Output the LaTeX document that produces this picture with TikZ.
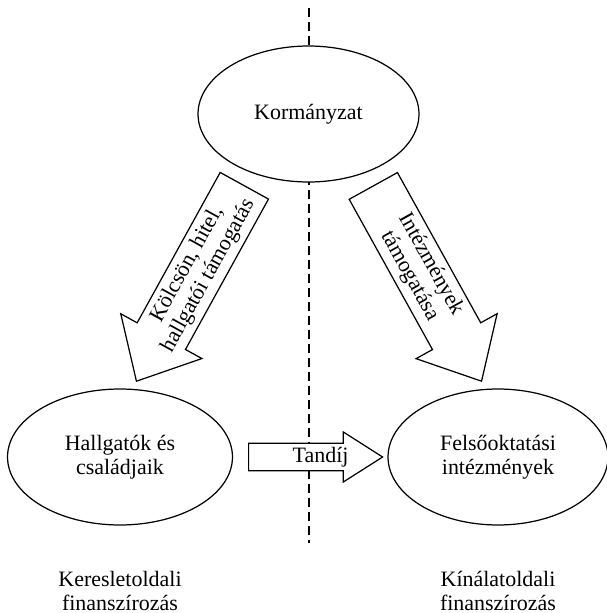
\documentclass[tikz,border=0pt]{standalone}
\usepackage{fontspec}
\setmainfont{Liberation Serif}
\usetikzlibrary{shapes,shapes.arrows,positioning,calc}
\begin{document}
\begin{tikzpicture}[x=0.02cm,y=-0.02cm,line width=0.7pt,font=\fontsize{12.5}{13.7}\selectfont,
  every node/.style={align=center},
  actor/.style={draw,ellipse,fill=white,inner sep=0pt,minimum height=2.72cm},
  flow/.style={draw,single arrow,fill=white,inner sep=1pt},
  bigflow/.style={flow,minimum height=4.466cm,minimum width=1.854cm,single arrow head extend=0.332cm,single arrow tip angle=84}]
\useasboundingbox (0,0) rectangle (607,613);
\coordinate (septop) at (309,8);
\coordinate (sepbot) at (309,543);
\draw[dash pattern=on 0.18cm off 0.1cm] (septop) -- (sepbot);
\node[actor,minimum width=4.42cm] (korm) at (308.5,114) {Kormányzat};
\node[actor,minimum width=4.5cm] (hallg) at (120,457) {Hallgatók és\\családjaik};
\node[actor,minimum width=4.4cm] (intez) at (498,457) {Felsőoktatási\\intézmények};
\node[bigflow,rotate=61.1,shape border rotate=180,anchor=tip] (kolcson) at (136,382) {Kölcsön, hitel,\\hallgatói támogatás};
\node[bigflow,rotate=-61,anchor=tip] (tamog) at (482,382) {Intézmények\\támogatása};
\node[flow,text width=1.75cm,align=right,minimum height=2.68cm,minimum width=1cm,single arrow head extend=0.2cm,single arrow tip angle=65,anchor=tail] (tandij) at (248,457) {Tandíj};
\node (kereslet) at (120,591) {Keresletoldali\\finanszírozás};
\node (kinalat) at (498,591) {Kínálatoldali\\finanszírozás};
\end{tikzpicture}
\end{document}
